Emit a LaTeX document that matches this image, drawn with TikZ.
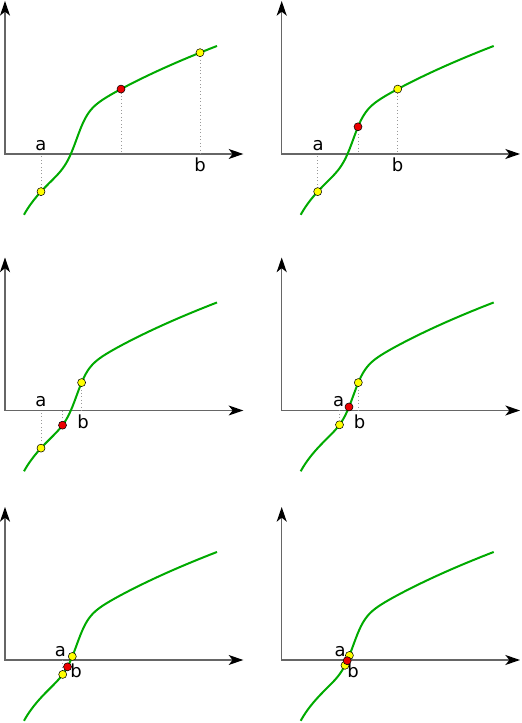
\documentclass[tikz,border=0pt]{standalone}
\usepackage{fontspec}
\setmainfont{DejaVu Sans}
\usepackage{xcolor}
\usetikzlibrary{arrows.meta}
\definecolor{curvegreen}{RGB}{0,170,0}
\definecolor{ptyellow}{RGB}{255,255,0}
\definecolor{ptred}{RGB}{235,0,0}

\begin{document}
\begin{tikzpicture}[x=0.75pt, y=0.75pt,
    axis/.style={draw=black!60, line width=1pt,
        {Stealth[length=11pt, width=7.5pt, inset=3pt, color=black]}-{Stealth[length=11pt, width=7.5pt, inset=3pt, color=black]}},
    dotline/.style={draw=gray!80, dotted, line width=0.6pt},
    curve/.style={draw=curvegreen, line width=1.5pt},
    endpt/.style={circle, draw=black, line width=0.4pt, fill=ptyellow, inner sep=0pt, minimum size=6pt},
    midpt/.style={endpt, fill=ptred},
    lbl/.style={font=\fontsize{13.5}{15}\selectfont, anchor=base, inner sep=0pt},
    declare function={
        th(\u)=1-2/(exp(2*max(-4,min(4,\u)))+1);
        f(\t)=11*sqrt(\t-10)-71.05+22.75*th((\t-71.8)/11.2);}
]
    \useasboundingbox (0,0) rectangle (521,723);
    % 六个二分步骤：原点 / a / b / 中点 / 标签位置
    \foreach \px/\py/\a/\b/\m/\la/\lb in {
        5/569/36/195/116/36/195,
        281.7/569/36/116/76.3/36.5/116,
        5/312.5/36/76.6/57.5/36/78,
        281.7/312.5/57.8/76.6/67.3/57/78,
        5/63/57.7/67.3/62.5/55.5/71,
        281.7/63/63.3/67.7/65.5/58.5/71.5}{
    \begin{scope}[shift={(\px,\py)}]
        % 坐标轴
        \coordinate (O) at (0,0);
        \coordinate (X) at (238.3,0);
        \coordinate (Y) at (0,153);
        \draw[axis] (Y) -- (O) -- (X);
        % 区间端点和中点
        \coordinate (A) at (\a,{f(\a)});
        \coordinate (B) at (\b,{f(\b)});
        \coordinate (M) at (\m,{f(\m)});
        \coordinate (A0) at (\a,0);
        \coordinate (B0) at (\b,0);
        \coordinate (M0) at (\m,0);
        \draw[dotline] (A) -- (A0);
        \draw[dotline] (B) -- (B0);
        \draw[dotline] (M) -- (M0);
        % 函数曲线
        \draw[curve] plot[domain=19:212, samples=120] (\x,{f(\x)});
        \node[lbl] (la) at (\la,3.5) {a};
        \node[lbl] (lb) at (\lb,-18) {b};
        \node[endpt] (pa) at (A) {};
        \node[endpt] (pb) at (B) {};
        \node[midpt] (pm) at (M) {};
    \end{scope}
    }
\end{tikzpicture}
\end{document}
